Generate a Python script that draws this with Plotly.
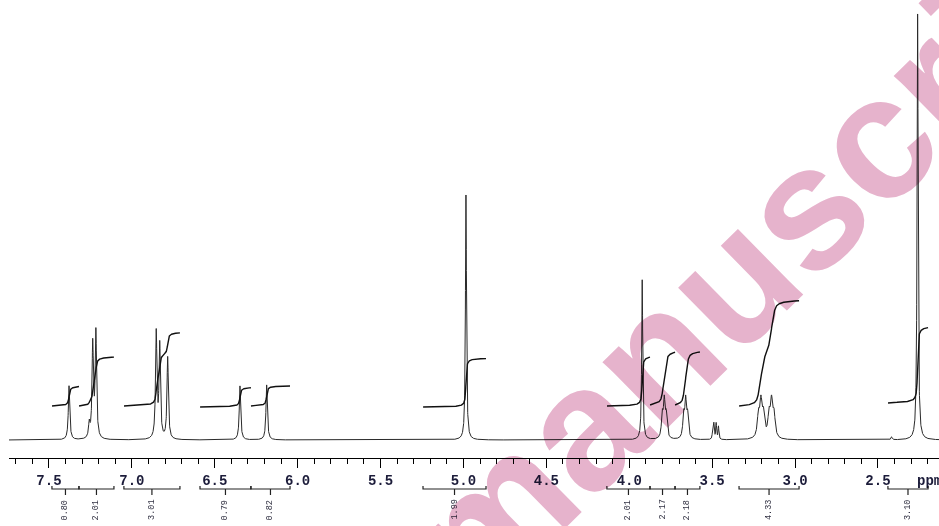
import numpy as np
import plotly.graph_objects as go

# ---------------- data ----------------
# peak list: chemical shift (ppm), height (a.u.), line width FWHM (ppm)
peak_ppm = [7.379, 7.257, 7.236, 7.217,
            6.853, 6.832, 6.784,
            6.348, 6.187,
            4.985,
            3.922,
            3.801, 3.789, 3.777,
            3.672, 3.660, 3.648,
            3.498, 3.490, 3.476, 3.462,
            3.221, 3.206, 3.191,
            3.157, 3.142, 3.127,
            2.418, 2.261]
peak_height = [54, 14, 94, 106,
               106, 93, 82,
               54, 55,
               245,
               160,
               22, 36, 22,
               22, 36, 22,
               6, 16, 16, 13,
               22, 34, 22,
               22, 34, 22,
               3, 426]
peak_width = [0.010, 0.010, 0.010, 0.010,
              0.010, 0.010, 0.010,
              0.010, 0.010,
              0.0075,
              0.0075,
              0.012, 0.012, 0.012,
              0.012, 0.012, 0.012,
              0.006, 0.006, 0.006, 0.006,
              0.016, 0.016, 0.016,
              0.016, 0.016, 0.016,
              0.008, 0.0075]

# integration regions (ppm) and integral values
int_start = [7.482, 7.319, 7.048, 6.589, 6.282, 5.244, 4.135, 3.875, 3.724, 3.338, 2.440]
int_end = [7.319, 7.108, 6.710, 6.282, 6.046, 4.864, 3.875, 3.724, 3.574, 2.976, 2.198]
int_value = [0.80, 2.01, 3.01, 0.79, 0.82, 1.99, 2.01, 2.17, 2.18, 4.33, 3.10]
int_base = [34, 34, 34, 33, 34, 33, 34, 35, 35, 34, 37]

# axis
major_ticks = [7.5, 7.0, 6.5, 6.0, 5.5, 5.0, 4.5, 4.0, 3.5, 3.0, 2.5]
tick_labels = ["7.5", "7.0", "6.5", "6.0", "5.5", "5.0", "4.5", "4.0", "3.5", "3.0", "2.5"]

# ---------------- spectrum ----------------
grid = np.concatenate([np.arange(7.75, 2.10, -0.0005), np.array(peak_ppm)])
x = np.sort(grid)[::-1]
y = np.zeros_like(x)
for c, h, w in zip(peak_ppm, peak_height, peak_width):
    y += h / (1.0 + ((x - c) / (w / 2.0)) ** 2)

H_SCALE = 24.3  # integral height per proton (a.u.)

fig = go.Figure()

fig.add_trace(go.Scatter(x=x, y=y, mode="lines",
                         line=dict(color="#2a2a2a", width=1),
                         hoverinfo="skip", showlegend=False))

# integral curves
ix, iy = [], []
for s, e, v, b in zip(int_start, int_end, int_value, int_base):
    m = (x <= s) & (x >= e)
    xs = x[m]
    cs = np.cumsum(y[m])
    cs = cs - cs[0]
    curve = b + v * H_SCALE * cs / cs[-1]
    ix += list(xs) + [None]
    iy += list(curve) + [None]
fig.add_trace(go.Scatter(x=ix, y=iy, mode="lines",
                         line=dict(color="#111111", width=1.4),
                         hoverinfo="skip", showlegend=False))

# integration brackets under the axis
bx, by = [], []
for s, e in zip(int_start, int_end):
    mid = (s + e) / 2
    bx += [s, s, e, e, None, mid, mid, None]
    by += [-46, -49, -49, -46, None, -49, -55, None]
fig.add_trace(go.Scatter(x=bx, y=by, mode="lines",
                         line=dict(color="#222222", width=1.2),
                         hoverinfo="skip", showlegend=False))

annotations = []
# watermark (blended with multiply so the spectrum stays visible through it)
annotations.append(dict(x=0.8215, y=0.5440, xref="paper", yref="paper",
                        text="manuscript", textangle=-44.5, showarrow=False,
                        xanchor="center", yanchor="middle",
                        font=dict(family="Liberation Sans", size=175,
                                  color="#e6b3cc", weight="bold")))
for s, e, v in zip(int_start, int_end, int_value):
    annotations.append(dict(x=(s + e) / 2, y=-70, xref="x", yref="y",
                            text=f"{v:.2f}", textangle=-90, showarrow=False,
                            font=dict(family="Liberation Mono", size=8.5, color="#333344")))
annotations.append(dict(x=2.277, y=-41, xref="x", yref="y", text="ppm",
                        xanchor="left", yanchor="middle", showarrow=False,
                        font=dict(family="Liberation Mono", size=14, color="#1c1c3a",
                                  weight="bold")))

fig.update_layout(
    width=939, height=526,
    margin=dict(l=9, r=0, t=0, b=0),
    paper_bgcolor="white", plot_bgcolor="white",
    showlegend=False,
    annotations=annotations,
    xaxis=dict(range=[7.741, 2.132], anchor="free", position=0.1293,
               showgrid=False, zeroline=False, automargin=False,
               showline=True, linecolor="black", linewidth=1,
               tickmode="array", tickvals=major_ticks, ticktext=tick_labels,
               ticks="outside", ticklen=9, tickcolor="black", tickwidth=1,
               tickfont=dict(family="Liberation Mono", size=14, color="#1c1c3a",
                             weight="bold"),
               minor=dict(dtick=0.1, tick0=0, ticks="outside", ticklen=5,
                          tickcolor="black", tickwidth=1)),
    yaxis=dict(range=[-86, 440], visible=False, showgrid=False, zeroline=False),
)

post = ("document.body.style.margin='0';document.body.style.overflow='hidden';"
        "function blendWM(){document.querySelectorAll('g.annotation').forEach(function(g){"
        "g.style.mixBlendMode='multiply';g.setAttribute('style',(g.getAttribute('style')||'')+';mix-blend-mode:multiply');});}"
        "blendWM();setTimeout(blendWM,0);setTimeout(blendWM,200);"
        "var gdw=document.getElementById('{plot_id}');"
        "if(gdw&&gdw.on){gdw.on('plotly_afterplot',blendWM);}")

fig.write_html("out.html", config={"displayModeBar": False}, post_script=post)
